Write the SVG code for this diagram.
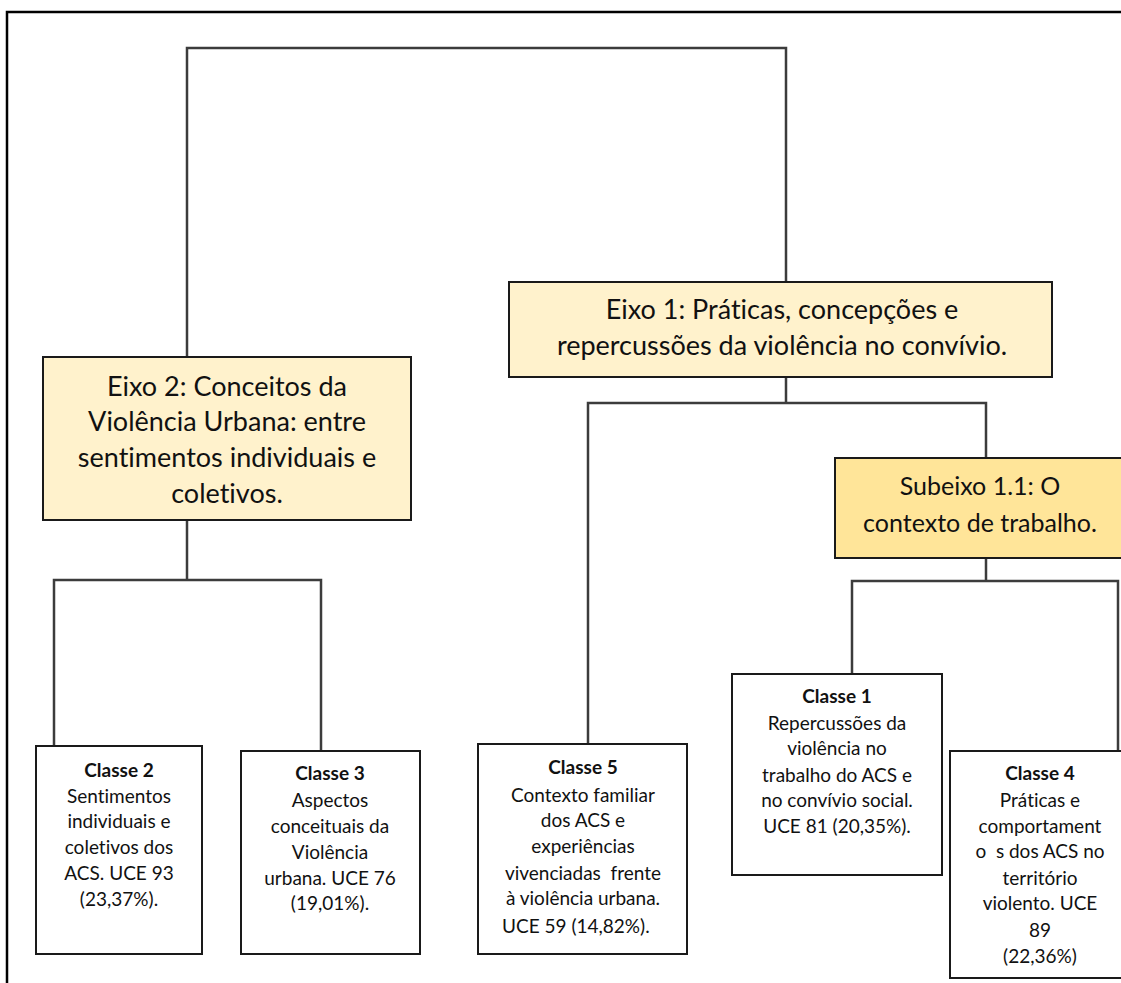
<svg xmlns="http://www.w3.org/2000/svg" width="1121" height="983" viewBox="0 0 1121 983">
<style>
.frame{fill:none;stroke:#000;stroke-width:2.5}
.conn{fill:none;stroke:#3c3c3c;stroke-width:2.5}
.eixo{fill:#fff2cc;stroke:#1a1a1a;stroke-width:2}
.sub{fill:#ffe599;stroke:#1a1a1a;stroke-width:2}
.cls{fill:#fff;stroke:#1a1a1a;stroke-width:2}
text{font-family:Lato,"Liberation Sans",sans-serif;fill:#111;text-anchor:middle;font-variant-ligatures:none}
.t1{font-size:27px}
.ts{font-size:25px}
.t2{font-size:19px}
.b{font-weight:bold}
</style>
<rect x="0" y="0" width="1121" height="983" fill="#fff"/>
<path class="frame" d="M7,983 V12 H1121"/>
<g id="connectors">
<path class="conn" d="M187,357 V48 H786 V282"/>
<path class="conn" d="M187,520 V580 M54,746 V580 H321 V751"/>
<path class="conn" d="M786,377 V403 M588,744 V403 H986 V458"/>
<path class="conn" d="M986,558 V581 M852,673 V581 H1118 V751"/>
</g>
<g id="eixo2">
<rect class="eixo" x="43" y="357" width="368" height="163"/>
<text class="t1" x="227" y="396">Eixo 2: Conceitos da</text>
<text class="t1" x="227" y="431">Violência Urbana: entre</text>
<text class="t1" x="227" y="467">sentimentos individuais e</text>
<text class="t1" x="227" y="503">coletivos.</text>
</g>
<g id="eixo1">
<rect class="eixo" x="509" y="282" width="543" height="95"/>
<text class="t1" x="782" y="319">Eixo 1: Práticas, concepções e</text>
<text class="t1" x="782" y="355">repercussões da violência no convívio.</text>
</g>
<g id="subeixo11">
<rect class="sub" x="835" y="458" width="290" height="100"/>
<text class="ts" x="980" y="495">Subeixo 1.1: O</text>
<text class="ts" x="980" y="532">contexto de trabalho.</text>
</g>
<g id="classe2">
<rect class="cls" x="36" y="746" width="166" height="208"/>
<text class="t2 b" x="119" y="777">Classe 2</text>
<text class="t2" x="119" y="803">Sentimentos</text>
<text class="t2" x="119" y="828">individuais e</text>
<text class="t2" x="119" y="854">coletivos dos</text>
<text class="t2" x="119" y="880">ACS. UCE 93</text>
<text class="t2" x="119" y="906">(23,37%).</text>
</g>
<g id="classe3">
<rect class="cls" x="241" y="751" width="179" height="203"/>
<text class="t2 b" x="330" y="780">Classe 3</text>
<text class="t2" x="330" y="807">Aspectos</text>
<text class="t2" x="330" y="833">conceituais da</text>
<text class="t2" x="330" y="859">Violência</text>
<text class="t2" x="330" y="885">urbana. UCE 76</text>
<text class="t2" x="330" y="910">(19,01%).</text>
</g>
<g id="classe5">
<rect class="cls" x="478" y="744" width="209" height="210"/>
<text class="t2 b" x="583" y="774">Classe 5</text>
<text class="t2" x="583" y="802">Contexto familiar</text>
<text class="t2" x="583" y="827">dos ACS e</text>
<text class="t2" x="583" y="853">experiências</text>
<text class="t2" x="583" y="880" xml:space="preserve">vivenciadas  frente</text>
<text class="t2" x="583" y="905">à violência urbana.</text>
<text class="t2" x="502" y="933" style="text-anchor:start">UCE 59 (14,82%).</text>
</g>
<g id="classe1">
<rect class="cls" x="732" y="674" width="210" height="201"/>
<text class="t2 b" x="837" y="703">Classe 1</text>
<text class="t2" x="837" y="730">Repercussões da</text>
<text class="t2" x="837" y="755">violência no</text>
<text class="t2" x="837" y="782">trabalho do ACS e</text>
<text class="t2" x="837" y="807">no convívio social.</text>
<text class="t2" x="837" y="833">UCE 81 (20,35%).</text>
</g>
<g id="classe4">
<rect class="cls" x="950" y="751" width="175" height="227"/>
<text class="t2 b" x="1040" y="780">Classe 4</text>
<text class="t2" x="1040" y="807">Práticas e</text>
<text class="t2" x="1040" y="833">comportament</text>
<text class="t2" x="1040" y="858" xml:space="preserve">o  s dos ACS no</text>
<text class="t2" x="1040" y="885">território</text>
<text class="t2" x="1040" y="910">violento. UCE</text>
<text class="t2" x="1040" y="937">89</text>
<text class="t2" x="1040" y="963">(22,36%)</text>
</g>
</svg>
